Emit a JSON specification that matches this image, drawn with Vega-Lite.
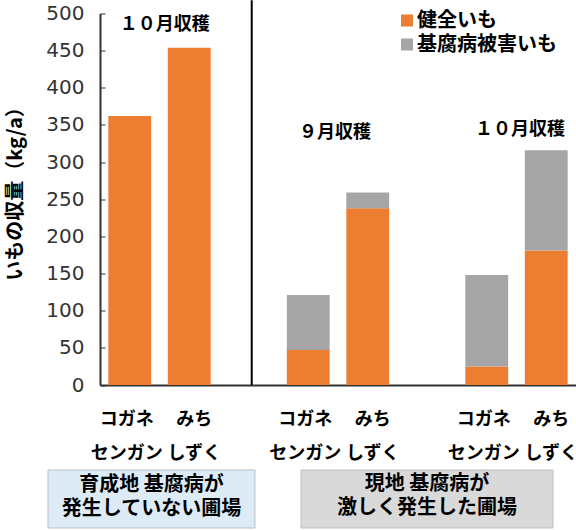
{
  "$schema": "https://vega.github.io/schema/vega-lite/v6.json",
  "width": 476,
  "height": 371.5,
  "autosize": {"type": "none"},
  "padding": {"left": 100, "top": 13.5, "right": 0, "bottom": 145},
  "background": "#ffffff",
  "view": {"stroke": null},
  "config": {"font": "Noto Sans CJK JP"},
  "datasets": {
    "yield": [
      {"bar": "育成地10月-コガネセンガン", "part": "健全いも", "value": 362},
      {"bar": "育成地10月-みちしずく", "part": "健全いも", "value": 454},
      {"bar": "現地9月-コガネセンガン", "part": "健全いも", "value": 47},
      {"bar": "現地9月-コガネセンガン", "part": "基腐病被害いも", "value": 74},
      {"bar": "現地9月-みちしずく", "part": "健全いも", "value": 238},
      {"bar": "現地9月-みちしずく", "part": "基腐病被害いも", "value": 21},
      {"bar": "現地10月-コガネセンガン", "part": "健全いも", "value": 25},
      {"bar": "現地10月-コガネセンガン", "part": "基腐病被害いも", "value": 123},
      {"bar": "現地10月-みちしずく", "part": "健全いも", "value": 181},
      {"bar": "現地10月-みちしずく", "part": "基腐病被害いも", "value": 135}
    ],
    "harvest": [
      {"pos": 1.09, "y": 484.5, "label": "１０月収穫"},
      {"pos": 3.95, "y": 339, "label": "９月収穫"},
      {"pos": 7.06, "y": 343, "label": "１０月収穫"}
    ],
    "divider": [
      {"pos": 2.55, "lo": 0, "hi": 518}
    ],
    "sites": [
      {"site": "育成地", "x0": -0.874, "x1": 2.605, "y0": -114.4, "y1": -192.5, "cx": 0.866, "cy": -134.6, "label": "育成地 基腐病が\n発生していない圃場"},
      {"site": "現地", "x0": 3.378, "x1": 7.613, "y0": -114.4, "y1": -192.5, "cx": 5.496, "cy": -133, "label": "現地 基腐病が\n激しく発生した圃場"}
    ]
  },
  "layer": [
    {
      "data": {"name": "yield"},
      "mark": {"type": "bar"},
      "encoding": {
        "x": {
          "field": "bar",
          "type": "nominal",
          "sort": null,
          "scale": {
            "domain": ["育成地10月-コガネセンガン", "育成地10月-みちしずく", "gap1", "現地9月-コガネセンガン", "現地9月-みちしずく", "gap2", "現地10月-コガネセンガン", "現地10月-みちしずく"],
            "paddingInner": 0.28,
            "paddingOuter": 0.14
          },
          "axis": {
            "title": null,
            "ticks": false,
            "domainColor": "#333333",
            "domainWidth": 2,
            "labelAngle": 0,
            "labelExpr": "indexof(datum.value, 'コガネ') >= 0 ? ['コガネ', 'センガン'] : indexof(datum.value, 'みち') >= 0 ? ['みち', 'しずく'] : ''",
            "labelOffset": {"condition": {"test": "indexof(datum.value, 'みち') >= 0", "value": 5}, "value": -3},
            "labelFont": "Noto Sans CJK JP",
            "labelFontSize": 18,
            "labelFontWeight": "bold",
            "labelColor": "#000000",
            "labelLineHeight": 34,
            "labelPadding": 25,
            "labelOverlap": false,
            "labelBound": false
          }
        },
        "y": {
          "field": "value",
          "type": "quantitative",
          "scale": {"domain": [0, 500], "nice": false},
          "axis": {
            "title": "いもの収量（kg/a）",
            "values": [0, 50, 100, 150, 200, 250, 300, 350, 400, 450, 500],
            "grid": false,
            "domainColor": "#333333",
            "domainWidth": 2,
            "tickColor": "#333333",
            "tickSize": -5,
            "labelFont": "DejaVu Sans",
            "labelFontSize": 20,
            "labelColor": "#333333",
            "labelPadding": 21,
            "titleFont": "Noto Sans CJK JP",
            "titleFontSize": 20,
            "titleFontWeight": "bold",
            "titleColor": "#000000",
            "titleX": -85,
            "titleY": 175,
            "titleAlign": "center",
            "titleBaseline": "middle"
          }
        },
        "order": {"field": "part", "sort": "ascending"},
        "color": {
          "field": "part",
          "type": "nominal",
          "scale": {"domain": ["健全いも", "基腐病被害いも"], "range": ["#ED7D31", "#A5A5A5"]},
          "legend": {
            "title": null,
            "orient": "none",
            "legendX": 297,
            "legendY": -3,
            "symbolType": "square",
            "symbolSize": 144,
            "symbolStrokeWidth": 0,
            "labelFont": "Noto Sans CJK JP",
            "labelFontSize": 20,
            "labelFontWeight": "bold",
            "labelColor": "#000000",
            "labelOffset": 0,
            "rowPadding": 4
          }
        }
      }
    },
    {
      "data": {"name": "divider"},
      "mark": {"type": "rule", "color": "#000000", "strokeWidth": 2},
      "encoding": {
        "x": {"field": "pos", "type": "quantitative", "scale": {"domain": [0, 8], "nice": false, "zero": false}, "axis": null},
        "y": {"field": "lo", "type": "quantitative", "scale": {"domain": [0, 500], "nice": false}, "axis": null},
        "y2": {"field": "hi"}
      }
    },
    {
      "data": {"name": "harvest"},
      "mark": {"type": "text", "font": "Noto Sans CJK JP", "fontSize": 18, "fontWeight": "bold", "color": "#000000", "baseline": "middle", "align": "center"},
      "encoding": {
        "x": {"field": "pos", "type": "quantitative", "scale": {"domain": [0, 8], "nice": false, "zero": false}, "axis": null},
        "y": {"field": "y", "type": "quantitative", "scale": {"domain": [0, 500], "nice": false}, "axis": null},
        "text": {"field": "label"}
      }
    },
    {
      "data": {"name": "sites"},
      "mark": {"type": "rect", "stroke": "#bfbfbf", "strokeWidth": 1},
      "encoding": {
        "x": {"field": "x0", "type": "quantitative", "scale": {"domain": [0, 8], "nice": false, "zero": false}, "axis": null},
        "x2": {"field": "x1"},
        "y": {"field": "y0", "type": "quantitative", "scale": {"domain": [0, 500], "nice": false}, "axis": null},
        "y2": {"field": "y1"},
        "fill": {"field": "site", "type": "nominal", "scale": {"domain": ["育成地", "現地"], "range": ["#DDEBF7", "#D9D9D9"]}, "legend": null}
      }
    },
    {
      "data": {"name": "sites"},
      "mark": {"type": "text", "font": "Noto Sans CJK JP", "fontSize": 20, "fontWeight": "bold", "color": "#000000", "baseline": "middle", "align": "center", "lineBreak": "\n", "lineHeight": 24},
      "encoding": {
        "x": {"field": "cx", "type": "quantitative", "scale": {"domain": [0, 8], "nice": false, "zero": false}, "axis": null},
        "y": {"field": "cy", "type": "quantitative", "scale": {"domain": [0, 500], "nice": false}, "axis": null},
        "text": {"field": "label"}
      }
    }
  ],
  "resolve": {
    "scale": {"x": "independent", "fill": "independent"},
    "axis": {"y": "independent"}
  }
}
